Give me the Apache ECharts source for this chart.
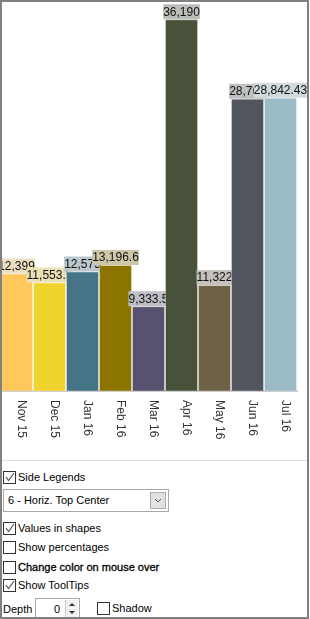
<!DOCTYPE html>
<html>
<head>
<meta charset="utf-8">
<script src="https://cdn.jsdelivr.net/npm/echarts@6/dist/echarts.min.js"></script>
<style>
    body { margin: 0; background: #fff; font-family: Arial, "Liberation Sans", sans-serif; }
    #wrap { position: relative; width: 310px; height: 619px; overflow: hidden; }
    #chart { position: absolute; left: 0; top: 0; width: 310px; height: 460px; }
    #frame { position: absolute; left: 0; top: 0; width: 305px; height: 615px; border: 2px solid #808080; pointer-events: none; }
    #sep { position: absolute; left: 2px; top: 460px; width: 305px; height: 1px; background: #dcdcdc; }
    .ctl { position: absolute; font-size: 11px; color: #000; line-height: 13px; white-space: nowrap; }
    .box { position: absolute; width: 11px; height: 11px; border: 1px solid #333; background: #fff; }
    .box svg { position: absolute; left: 0; top: 0; }
    #combo { position: absolute; left: 3px; top: 489px; width: 164px; height: 21px; border: 1px solid #a9a9a9; background: #fff; }
    #combo span { position: absolute; left: 4px; top: 4px; font-size: 11px; }
    #combo .btn { position: absolute; right: 2px; top: 2px; width: 14px; height: 15px; border: 1px solid #adadad; background: #e1e1e1; }
    #spin { position: absolute; left: 35px; top: 598px; width: 43px; height: 20px; border: 1px solid #a9a9a9; background: #fff; }
    #spin span { position: absolute; left: 18px; top: 4px; font-size: 11px; }
    #spin .btn { position: absolute; right: 1px; top: 1px; width: 12px; height: 17px; background: #f0f0f0; border-left: 1px solid #ccc; }
</style>
</head>
<body>
<div id="wrap">
    <div id="chart"></div>
    <div id="sep"></div>
    <div id="controls"></div>
    <div id="combo"><span>6 - Horiz. Top Center</span><div class="btn">
        <svg width="14" height="15"><polyline points="4,6 7,9 10,6" fill="none" stroke="#555" stroke-width="1"/></svg>
    </div></div>
    <div class="ctl" style="left:3px;top:603px;">Depth</div>
    <div id="spin"><span>0</span><div class="btn">
        <svg width="12" height="17"><polygon points="3,6 6,3 9,6" fill="#333"/><polygon points="3,11 9,11 6,14" fill="#333"/></svg>
    </div></div>
    <div id="frame"></div>
</div>
<script>
// months shown on the category axis
const months = ['Nov 15', 'Dec 15', 'Jan 16', 'Feb 16', 'Mar 16', 'Apr 16', 'May 16', 'Jun 16', 'Jul 16'];
// value of each month
const values = [12399, 11553.5, 12575, 13196.6, 9333.5, 36190, 11322, 28764, 28842.43];
// one colour per bar
const barColors = ['#FEC85C', '#F1D32E', '#447486', '#8B7400', '#58516F', '#48523A', '#6D6245', '#50555E', '#9ABAC6'];

// checkboxes under the chart
const checkLabels = ['Side Legends', 'Values in shapes', 'Show percentages', 'Change color on mouse over', 'Show ToolTips', 'Shadow'];
const checkStates = [true, true, false, false, true, false];
const checkPos = [[3, 471], [3, 522], [3, 541], [3, 561], [3, 579], [97, 602]];

// pastel version of a bar colour, used behind the value labels
const paleOf = (hex, a) => {
    const n = parseInt(hex.slice(1), 16);
    const mix = (c) => Math.round(c * a + 230 * (1 - a));
    return 'rgb(' + mix(n >> 16) + ',' + mix((n >> 8) & 255) + ',' + mix(n & 255) + ')';
};

const fmt = (v) => v.toLocaleString('en-US', { maximumFractionDigits: 2 });

// build the checkbox list
let html = '';
checkLabels.forEach((lbl, i) => {
    const [x, y] = checkPos[i];
    const tick = checkStates[i]
        ? '<svg width="11" height="11"><polyline points="2,5 4.5,8.5 10,1" fill="none" stroke="#555" stroke-width="1.2"/></svg>'
        : '';
    const weight = lbl.indexOf('Change') === 0 ? '-webkit-text-stroke:0.3px #000;' : '';
    html += '<div class="box" style="left:' + x + 'px;top:' + y + 'px;">' + tick + '</div>';
    html += '<div class="ctl" style="left:' + (x + 15) + 'px;top:' + y + 'px;' + weight + '">' + lbl + '</div>';
});
document.getElementById('controls').innerHTML = html;

const chart = echarts.init(document.getElementById('chart'), null, { renderer: 'canvas' });

// one series per month so each bar is drawn over the previous month's label
const seriesList = months.map((m, i) => ({
    type: 'bar',
    name: m,
    z: 2 + i,
    data: values.map((v, j) => (j === i ? v : '-')),
    barGap: '-100%',
    barCategoryGap: 0,
    itemStyle: { color: barColors[i], borderColor: 'rgba(255,255,255,0.35)', borderWidth: 1 },
    label: {
        show: true,
        position: 'top',
        distance: 0,
        fontSize: 12,
        fontFamily: 'Arial',
        color: '#111',
        backgroundColor: paleOf(barColors[i], 0.27),
        padding: [2, 0, 1, 0],
        formatter: (p) => fmt(p.value)
    }
}));

chart.setOption({
    animation: false,
    grid: { left: 0, right: 13, top: 0, bottom: 69 },
    xAxis: {
        type: 'category',
        data: months,
        axisLine: { lineStyle: { color: '#c4c4c4', width: 2 } },
        axisTick: { alignWithLabel: true, length: 4, lineStyle: { color: '#a8a8a8' } },
        axisLabel: {
            interval: 0,
            rotate: -90,
            margin: 9,
            fontSize: 12,
            fontFamily: 'Arial',
            color: '#333',
            verticalAlign: 'bottom',
            lineHeight: 10
        }
    },
    yAxis: {
        type: 'value',
        min: 1400,
        max: 38000,
        show: false,
        splitLine: { show: false }
    },
    series: seriesList
});
</script>
</body>
</html>
